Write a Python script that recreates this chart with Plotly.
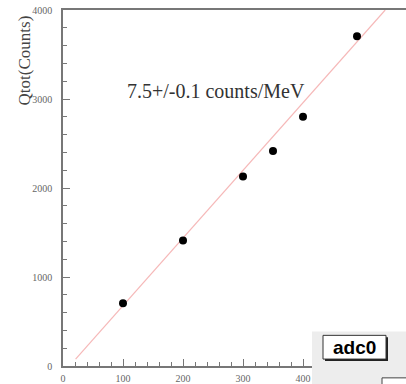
import plotly.graph_objects as go

# data
energy_mev = [100, 200, 300, 350, 400, 490]
qtot_counts = [705, 1410, 2130, 2415, 2800, 3705]
fit_x = [21, 537]
fit_y = [78, 4000]
x_ticks = [0, 100, 200, 300, 400, 500]
y_ticks = [0, 1000, 2000, 3000, 4000]
fit_label = "7.5+/-0.1 counts/MeV"
y_title = "Qtot(Counts)"
pad_label = "adc0"

W, H = 406, 384
L, R, T, B = 63, 0, 10, 14
pw, ph = W - L - R, H - T - B

def px(xp):
    return (xp - L) / pw

def py(yp):
    return (H - B - yp) / ph

fig = go.Figure()
fig.add_trace(go.Scatter(x=fit_x, y=fit_y, mode="lines",
                         line=dict(color="#f6b8b8", width=1.2),
                         hoverinfo="skip", showlegend=False))
fig.add_trace(go.Scatter(x=energy_mev, y=qtot_counts, mode="markers",
                         marker=dict(color="black", size=8),
                         showlegend=False))

serif = "Liberation Serif"
fig.update_layout(
    width=W, height=H,
    margin=dict(l=L, r=R, t=T, b=B, pad=0),
    paper_bgcolor="white", plot_bgcolor="white",
    showlegend=False,
    xaxis=dict(range=[0, pw / 0.6], tickvals=x_ticks,
               ticktext=[str(v) for v in x_ticks],
               showgrid=False, zeroline=False,
               showline=True, linecolor="#777", linewidth=1.5, mirror=True,
               ticks="inside", ticklen=7, tickcolor="#777", tickwidth=1,
               minor=dict(dtick=20, ticks="inside", ticklen=4, tickcolor="#777", showgrid=False),
               tickfont=dict(family=serif, size=10, color="#666"),
               ticklabelstandoff=2),
    yaxis=dict(range=[0, 4000], tickvals=y_ticks,
               showgrid=False, zeroline=False,
               showline=True, linecolor="#777", linewidth=1.5,
               ticks="inside", ticklen=7, tickcolor="#777", tickwidth=1,
               minor=dict(dtick=200, ticks="inside", ticklen=4, tickcolor="#777", showgrid=False),
               tickfont=dict(family=serif, size=10, color="#666"),
               ticklabelstandoff=7),
)

# y title (ROOT style, top-aligned)
fig.add_annotation(text=y_title, xref="paper", yref="paper",
                   x=px(24), y=py(61), xanchor="center", yanchor="middle",
                   textangle=-90, showarrow=False,
                   font=dict(family=serif, size=17, color="#444"))

# fit label
fig.add_annotation(text=fit_label, x=255, y=3090, xref="x", yref="y",
                   xanchor="center", yanchor="middle", showarrow=False,
                   font=dict(family=serif, size=20, color="#333"))

# gray pad in the lower right
fig.add_shape(type="rect", xref="paper", yref="paper",
              x0=px(312), x1=px(W + 5), y0=py(H + 5), y1=py(335),
              fillcolor="#ededed", line=dict(width=0), layer="above")
# adc0 label box with shadow
fig.add_shape(type="rect", xref="paper", yref="paper",
              x0=px(325), x1=px(388), y0=py(365), y1=py(341),
              fillcolor="#222", line=dict(width=0), layer="above")
fig.add_shape(type="rect", xref="paper", yref="paper",
              x0=px(323), x1=px(386), y0=py(363), y1=py(339),
              fillcolor="white", line=dict(color="#333", width=1), layer="above")
fig.add_annotation(text="<b>%s</b>" % pad_label, xref="paper", yref="paper",
                   x=px(354), y=py(351), xanchor="center", yanchor="middle",
                   showarrow=False,
                   font=dict(family="Liberation Sans", size=19, color="black"))
# small box partly visible at bottom edge
fig.add_shape(type="rect", xref="paper", yref="paper",
              x0=px(382), x1=px(W + 5), y0=py(H + 5), y1=py(382),
              fillcolor="white", line=dict(color="#444", width=1), layer="above")

fig.write_html("out.html")
